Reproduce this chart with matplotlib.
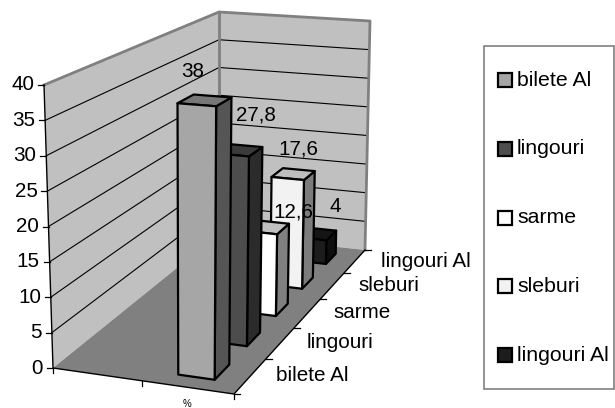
import numpy as np
import matplotlib
matplotlib.use("Agg")
import matplotlib.pyplot as plt
from matplotlib.patches import Polygon, Rectangle

plt.rcParams['font.family'] = ['Liberation Sans', 'DejaVu Sans']

series = ['bilete Al', 'lingouri', 'sarme', 'sleburi', 'lingouri Al']
values = [38, 27.8, 12.6, 17.6, 4]
value_labels = ['38', '27,8', '12,6', '17,6', '4']
y_ticks = [0, 5, 10, 15, 20, 25, 30, 35, 40]
category = '%'

front_cols = ['#A6A6A6', '#4D4D4D', '#FFFFFF', '#F2F2F2', '#1C1C1C']
side_cols = ['#555555', '#2B2B2B', '#808080', '#7C7C7C', '#0E0E0E']
top_cols = ['#777777', '#3A3A3A', '#C0C0C0', '#BEBEBE', '#151515']
label_shift = [(-4, -33), (25, -40), (33, -20), (11, -30), (24, -32)]

YMAX = 40
# box corners in pixels: (across, depth)
floor_quad = [(53, 368), (234, 394), (365, 250), (219, 234)]
top_quad = [(44, 85), (237, 100), (370, 21), (219, 12)]
BAR_U = (0.645, 0.845)
BAR_V = (0.28, 0.72)


def homography(quad):
    src = [(0, 0), (1, 0), (1, 1), (0, 1)]
    A, b = [], []
    for (u, v), (x, y) in zip(src, quad):
        A.append([u, v, 1, 0, 0, 0, -u * x, -v * x])
        A.append([0, 0, 0, u, v, 1, -u * y, -v * y])
        b += [x, y]
    return np.append(np.linalg.solve(np.array(A, float), np.array(b, float)), 1).reshape(3, 3)


H_floor = homography(floor_quad)
H_top = homography(top_quad)


def proj(u, v, h=0):
    p0 = H_floor @ [u, v, 1]
    p1 = H_top @ [u, v, 1]
    p0 = p0[:2] / p0[2]
    p1 = p1[:2] / p1[2]
    return tuple(p0 + (p1 - p0) * h / YMAX)


fig = plt.figure(figsize=(6.15, 4.08), dpi=100)
ax = fig.add_axes([0, 0, 1, 1])
ax.set_xlim(0, 615)
ax.set_ylim(408, 0)
ax.axis('off')

WALL = '#C0C0C0'
GREY = '#808080'
FS = 14.9

# walls
left_wall = [proj(0, 0), proj(0, 1), proj(0, 1, YMAX), proj(0, 0, YMAX)]
right_wall = [proj(0, 1), proj(1, 1), proj(1, 1, YMAX), proj(0, 1, YMAX)]
ax.add_patch(Polygon(left_wall, fc=WALL, ec='none', zorder=1))
ax.add_patch(Polygon(right_wall, fc=WALL, ec='none', zorder=1))
for t in y_ticks[1:-1]:
    ax.plot(*zip(proj(0, 0, t), proj(0, 1, t), proj(1, 1, t)), color='black', lw=0.8, zorder=2)
ax.plot(*zip(proj(0, 0, YMAX), proj(0, 1, YMAX), proj(1, 1, YMAX), proj(1, 1)), color=GREY, lw=2, zorder=2)
ax.plot(*zip(proj(0, 1), proj(0, 1, YMAX)), color=GREY, lw=2, zorder=2)
ax.add_patch(Polygon([proj(0, 0), proj(1, 0), proj(1, 1), proj(0, 1)], fc=GREY, ec='none', zorder=3))

# axes lines
ax.plot(*zip(proj(0, 0, YMAX), proj(0, 0), proj(1, 0), proj(1, 1)), color='black', lw=1.0, zorder=4)
for t in y_ticks:
    x, y = proj(0, 0, t)
    ax.plot([x - 6, x], [y, y], color='black', lw=0.9, zorder=4)
    ax.text(x - 10, y, str(t), ha='right', va='center', fontsize=FS, color='black')
for u in [0, 0.5, 1]:
    x, y = proj(u, 0)
    ax.plot([x, x], [y, y + 5], color='black', lw=0.9, zorder=4)
for i in range(len(series) + 1):
    x, y = proj(1, i / len(series))
    ax.plot([x, x + 6], [y, y], color='black', lw=0.9, zorder=4)
for i, name in enumerate(series):
    x, y = proj(1, (i + 0.5) / len(series))
    ax.text(x + 26, y, name, ha='left', va='center', fontsize=FS, color='black')
x, y = proj(0.5, 0)
ax.text(x + 45, y + 23, category, ha='center', va='center', fontsize=7, color='black')

# bars, back to front
n = len(series)
for i in range(n - 1, -1, -1):
    val = values[i]
    v0 = (i + BAR_V[0]) / n
    v1 = (i + BAR_V[1]) / n
    u0, u1 = BAR_U
    z = 5 + (n - i)
    kw = dict(ec='black', lw=1.6, joinstyle='round', zorder=z)
    ax.add_patch(Polygon([proj(u1, v0), proj(u1, v1), proj(u1, v1, val), proj(u1, v0, val)], fc=side_cols[i], **kw))
    ax.add_patch(Polygon([proj(u0, v0, val), proj(u1, v0, val), proj(u1, v1, val), proj(u0, v1, val)], fc=top_cols[i], **kw))
    ax.add_patch(Polygon([proj(u0, v0), proj(u1, v0), proj(u1, v0, val), proj(u0, v0, val)], fc=front_cols[i], **kw))
    x, y = proj((u0 + u1) / 2, v0, val)
    ax.text(x + label_shift[i][0], y + label_shift[i][1], value_labels[i], ha='center', va='center',
            fontsize=FS, color='black', zorder=20)

# legend
ax.add_patch(Rectangle((484, 46), 130, 343, fc='white', ec=GREY, lw=1.2, zorder=2))
for i, name in enumerate(series):
    yc = 80 + i * 68.8
    ax.add_patch(Rectangle((498, yc - 7), 14, 14, fc=front_cols[i], ec='black', lw=1.6, zorder=3))
    ax.text(517, yc, name, ha='left', va='center', fontsize=15.3, color='black', zorder=3)

fig.savefig('out.png', dpi=100)
